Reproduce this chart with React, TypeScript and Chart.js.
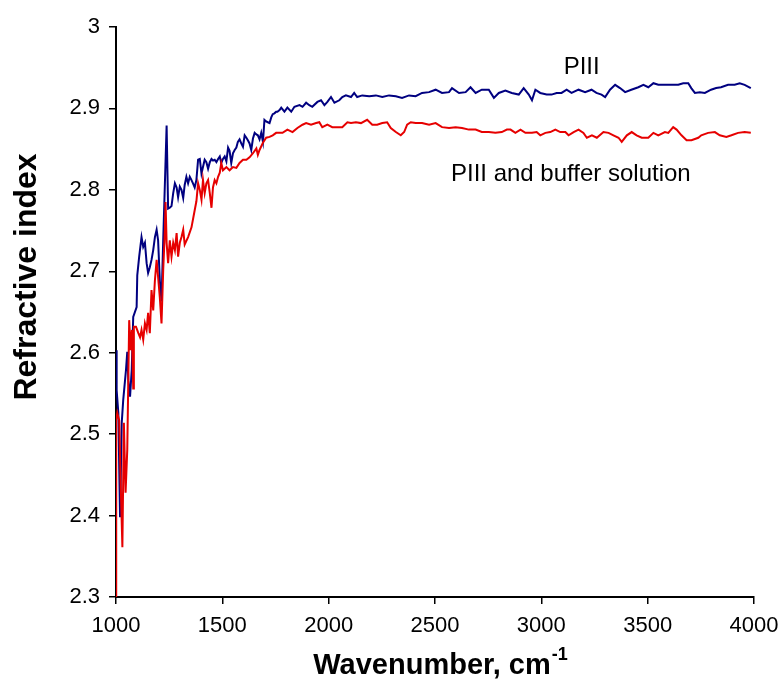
import React, { useEffect, useRef } from 'react';
import { Chart, registerables } from 'chart.js';

Chart.register(...registerables);

// PIII (blue)
const piiiWavenumber = [
  1000, 1003, 1011, 1019, 1027, 1034, 1047, 1053, 1058, 1066, 1074, 1081, 1097, 1100, 1109,
  1120, 1128, 1136, 1144, 1151, 1159, 1167, 1175, 1183, 1191, 1198, 1206, 1214, 1222, 1238,
  1245, 1253, 1261, 1269, 1277, 1285, 1292, 1300, 1308, 1316, 1323, 1331, 1339, 1347, 1355,
  1362, 1370, 1378, 1386, 1394, 1402, 1409, 1417, 1425, 1433, 1441, 1449, 1456, 1464, 1472,
  1480, 1488, 1495, 1503, 1511, 1519, 1527, 1534, 1542, 1550, 1558, 1566, 1573, 1581, 1589,
  1597, 1605, 1613, 1620, 1628, 1636, 1644, 1652, 1660, 1667, 1675, 1683, 1691, 1698, 1706,
  1714, 1722, 1730, 1737, 1745, 1753, 1759, 1769, 1777, 1792, 1806, 1824, 1839, 1863, 1877,
  1894, 1909, 1923, 1947, 1964, 1980, 1994, 2011, 2027, 2050, 2064, 2081, 2105, 2120, 2134,
  2158, 2191, 2222, 2252, 2284, 2316, 2345, 2378, 2409, 2439, 2472, 2503, 2533, 2566, 2580,
  2613, 2644, 2667, 2691, 2720, 2753, 2777, 2800, 2831, 2861, 2894, 2917, 2941, 2956, 2972,
  2995, 3025, 3048, 3072, 3095, 3119, 3142, 3175, 3206, 3236, 3259, 3283, 3300, 3323, 3347,
  3370, 3394, 3423, 3456, 3480, 3503, 3527, 3550, 3581, 3611, 3644, 3667, 3691, 3705, 3722,
  3745, 3769, 3798, 3822, 3845, 3878, 3909, 3933, 3956, 3985,
];
const piiiIndex = [
  2.603, 2.554, 2.526, 2.398, 2.514, 2.542, 2.579, 2.601, 2.566, 2.546, 2.579, 2.644, 2.656, 2.695, 2.718,
  2.742, 2.730, 2.735, 2.710, 2.698, 2.705, 2.714, 2.726, 2.742, 2.751, 2.738, 2.689, 2.663, 2.738, 2.879,
  2.777, 2.778, 2.780, 2.796, 2.808, 2.803, 2.791, 2.804, 2.800, 2.790, 2.806, 2.816, 2.808, 2.816, 2.812,
  2.808, 2.803, 2.812, 2.837, 2.838, 2.820, 2.828, 2.837, 2.834, 2.826, 2.834, 2.838, 2.836, 2.837, 2.834,
  2.838, 2.841, 2.833, 2.838, 2.841, 2.835, 2.852, 2.848, 2.833, 2.845, 2.849, 2.852, 2.859, 2.862, 2.857,
  2.853, 2.867, 2.864, 2.861, 2.857, 2.849, 2.863, 2.870, 2.868, 2.867, 2.862, 2.870, 2.859, 2.886, 2.884,
  2.883, 2.882, 2.889, 2.893, 2.894, 2.896, 2.896, 2.898, 2.901, 2.896, 2.901, 2.896, 2.902, 2.904, 2.902,
  2.907, 2.904, 2.902, 2.908, 2.910, 2.904, 2.908, 2.914, 2.907, 2.910, 2.914, 2.916, 2.914, 2.919, 2.914,
  2.916, 2.915, 2.916, 2.914, 2.916, 2.915, 2.913, 2.916, 2.915, 2.919, 2.920, 2.923, 2.919, 2.920, 2.925,
  2.919, 2.920, 2.926, 2.919, 2.923, 2.923, 2.913, 2.919, 2.922, 2.919, 2.917, 2.925, 2.917, 2.910, 2.923,
  2.919, 2.917, 2.917, 2.919, 2.919, 2.923, 2.919, 2.923, 2.920, 2.923, 2.919, 2.917, 2.914, 2.923, 2.929,
  2.925, 2.920, 2.923, 2.926, 2.929, 2.926, 2.931, 2.929, 2.929, 2.929, 2.929, 2.931, 2.931, 2.925, 2.919,
  2.920, 2.919, 2.923, 2.925, 2.926, 2.929, 2.929, 2.931, 2.929, 2.925,
];

// PIII and buffer solution (red)
const bufferWavenumber = [
  1000, 1001, 1006, 1015, 1022, 1030, 1037, 1045, 1053, 1062, 1069, 1075, 1081, 1084, 1094,
  1105, 1113, 1120, 1128, 1136, 1144, 1151, 1159, 1167, 1175, 1183, 1191, 1198, 1206, 1214,
  1222, 1230, 1233, 1238, 1245, 1253, 1261, 1269, 1277, 1285, 1292, 1300, 1308, 1316, 1323,
  1339, 1355, 1370, 1378, 1386, 1394, 1402, 1409, 1417, 1425, 1433, 1441, 1449, 1456, 1464,
  1472, 1480, 1488, 1495, 1503, 1519, 1534, 1550, 1566, 1581, 1597, 1613, 1628, 1644, 1660,
  1667, 1675, 1691, 1706, 1722, 1737, 1753, 1783, 1806, 1830, 1853, 1877, 1894, 1917, 1941,
  1956, 1970, 1994, 2017, 2041, 2064, 2088, 2105, 2128, 2152, 2181, 2205, 2228, 2252, 2275,
  2292, 2316, 2339, 2355, 2369, 2386, 2409, 2439, 2472, 2503, 2533, 2566, 2597, 2627, 2659,
  2691, 2720, 2753, 2784, 2814, 2838, 2855, 2878, 2902, 2925, 2956, 2978, 2995, 3019, 3042,
  3066, 3089, 3113, 3128, 3152, 3175, 3198, 3214, 3238, 3261, 3292, 3316, 3339, 3363, 3378,
  3402, 3425, 3448, 3472, 3503, 3527, 3550, 3581, 3597, 3620, 3636, 3659, 3683, 3706, 3738,
  3752, 3784, 3816, 3839, 3870, 3894, 3925, 3956, 3985,
];
const bufferIndex = [
  2.300, 2.517, 2.526, 2.517, 2.440, 2.361, 2.514, 2.428, 2.481, 2.640, 2.603, 2.628, 2.556, 2.632, 2.632,
  2.624, 2.619, 2.628, 2.616, 2.636, 2.628, 2.649, 2.624, 2.677, 2.652, 2.689, 2.714, 2.693, 2.668, 2.636,
  2.702, 2.751, 2.785, 2.735, 2.710, 2.738, 2.718, 2.735, 2.726, 2.747, 2.718, 2.735, 2.742, 2.751, 2.733,
  2.742, 2.754, 2.775, 2.786, 2.808, 2.800, 2.788, 2.812, 2.796, 2.808, 2.812, 2.796, 2.778, 2.803, 2.812,
  2.808, 2.816, 2.821, 2.833, 2.824, 2.828, 2.824, 2.828, 2.827, 2.833, 2.837, 2.837, 2.840, 2.845, 2.851,
  2.843, 2.849, 2.858, 2.864, 2.865, 2.867, 2.870, 2.870, 2.874, 2.871, 2.876, 2.880, 2.882, 2.880, 2.882,
  2.883, 2.877, 2.880, 2.877, 2.877, 2.877, 2.883, 2.882, 2.883, 2.882, 2.886, 2.880, 2.880, 2.882, 2.883,
  2.876, 2.871, 2.867, 2.871, 2.880, 2.883, 2.882, 2.882, 2.880, 2.882, 2.877, 2.876, 2.877, 2.876, 2.874,
  2.874, 2.871, 2.871, 2.870, 2.871, 2.874, 2.874, 2.870, 2.874, 2.870, 2.870, 2.871, 2.867, 2.870, 2.871,
  2.874, 2.871, 2.871, 2.867, 2.871, 2.874, 2.870, 2.864, 2.867, 2.864, 2.871, 2.870, 2.867, 2.864, 2.859,
  2.867, 2.871, 2.867, 2.864, 2.864, 2.870, 2.867, 2.871, 2.870, 2.877, 2.874, 2.867, 2.861, 2.861, 2.864,
  2.867, 2.870, 2.871, 2.867, 2.865, 2.867, 2.870, 2.871, 2.870,
];

const xTickValues = [1000, 1500, 2000, 2500, 3000, 3500, 4000];
const yTickValues = [2.3, 2.4, 2.5, 2.6, 2.7, 2.8, 2.9, 3.0];

const seriesNames = ['PIII', 'PIII and buffer solution'];
const xTitle = 'Wavenumber, cm';
const xTitleSup = '-1';
const yTitle = 'Refractive index';

// label anchor points in data units
const piiiLabelAt = { x: 3105, y: 2.951 };
const bufferLabelAt = { x: 2575, y: 2.8195 };

const FONT = '"Liberation Sans", Arial, sans-serif';

const textPlugin = {
  id: 'customTexts',
  afterDraw(chart: any) {
    const { ctx, chartArea, scales } = chart;
    const xs = scales.x;
    const ys = scales.y;
    ctx.save();
    ctx.fillStyle = '#000';
    ctx.textBaseline = 'middle';
    ctx.textAlign = 'left';
    ctx.font = `24px ${FONT}`;
    ctx.fillText(seriesNames[0], xs.getPixelForValue(piiiLabelAt.x), ys.getPixelForValue(piiiLabelAt.y));
    ctx.fillText(seriesNames[1], xs.getPixelForValue(bufferLabelAt.x), ys.getPixelForValue(bufferLabelAt.y));

    // x title with superscript
    ctx.font = `bold 29px ${FONT}`;
    const w1 = ctx.measureText(xTitle).width;
    ctx.font = `bold 18px ${FONT}`;
    const w2 = ctx.measureText(xTitleSup).width;
    const cx = (chartArea.left + chartArea.right) / 2 + 5;
    const start = cx - (w1 + w2) / 2;
    const ty = chartArea.bottom + 69;
    ctx.font = `bold 29px ${FONT}`;
    ctx.fillText(xTitle, start, ty);
    ctx.font = `bold 18px ${FONT}`;
    ctx.fillText(xTitleSup, start + w1 + 1, ty - 11);

    // y title
    ctx.translate(27, 277);
    ctx.rotate(-Math.PI / 2);
    ctx.textAlign = 'center';
    ctx.font = `bold 32px ${FONT}`;
    ctx.fillText(yTitle, 0, 0);
    ctx.restore();
  },
};

export default function App() {
  const canvasRef = useRef<HTMLCanvasElement | null>(null);

  useEffect(() => {
    document.body.style.margin = '0';
    const canvas = canvasRef.current;
    if (!canvas) return;
    const chart = new Chart(canvas, {
      type: 'line',
      data: {
        datasets: [
          {
            label: seriesNames[0],
            data: piiiWavenumber.map((x, i) => ({ x, y: piiiIndex[i] })),
            borderColor: '#000080',
            borderWidth: 2,
            pointRadius: 0,
            tension: 0,
            fill: false,
            order: 1,
          },
          {
            label: seriesNames[1],
            data: bufferWavenumber.map((x, i) => ({ x, y: bufferIndex[i] })),
            borderColor: '#e60000',
            borderWidth: 2,
            pointRadius: 0,
            tension: 0,
            fill: false,
            order: 0,
          },
        ],
      },
      options: {
        animation: false,
        responsive: false,
        maintainAspectRatio: false,
        layout: { padding: { top: 27, right: 26, left: 0, bottom: 0 } },
        plugins: {
          legend: { display: false },
          tooltip: { enabled: false },
          title: { display: false },
        },
        scales: {
          x: {
            type: 'linear',
            min: 1000,
            max: 4000,
            afterBuildTicks: (axis: any) => {
              axis.ticks = xTickValues.map((v) => ({ value: v }));
            },
            afterFit: (axis: any) => {
              axis.height = 82;
              axis.paddingLeft = 0;
              axis.paddingRight = 0;
            },
            ticks: {
              color: '#000',
              font: { family: FONT, size: 22 },
              padding: 9,
              maxRotation: 0,
              autoSkip: false,
              callback: (v: any) => String(v),
            },
            grid: {
              display: true,
              drawOnChartArea: false,
              drawTicks: true,
              tickLength: 7,
              color: '#000',
              lineWidth: 1.5,
            },
            border: { display: true, color: '#000', width: 2 },
          },
          y: {
            type: 'linear',
            min: 2.3,
            max: 3.0,
            afterBuildTicks: (axis: any) => {
              axis.ticks = yTickValues.map((v) => ({ value: v }));
            },
            afterFit: (axis: any) => {
              axis.width = 116;
              axis.paddingTop = 0;
              axis.paddingBottom = 0;
            },
            ticks: {
              color: '#000',
              font: { family: FONT, size: 22 },
              padding: 9,
              autoSkip: false,
              callback: (v: any) => String(Math.round(Number(v) * 10) / 10),
            },
            grid: {
              display: true,
              drawOnChartArea: false,
              drawTicks: true,
              tickLength: 7,
              color: '#000',
              lineWidth: 1.5,
            },
            border: { display: true, color: '#000', width: 2 },
          },
        },
      },
      plugins: [textPlugin],
    });
    return () => chart.destroy();
  }, []);

  return (
    <div style={{ width: 780, height: 679, background: '#fff' }}>
      <canvas ref={canvasRef} width={780} height={679} style={{ display: 'block' }} />
    </div>
  );
}
